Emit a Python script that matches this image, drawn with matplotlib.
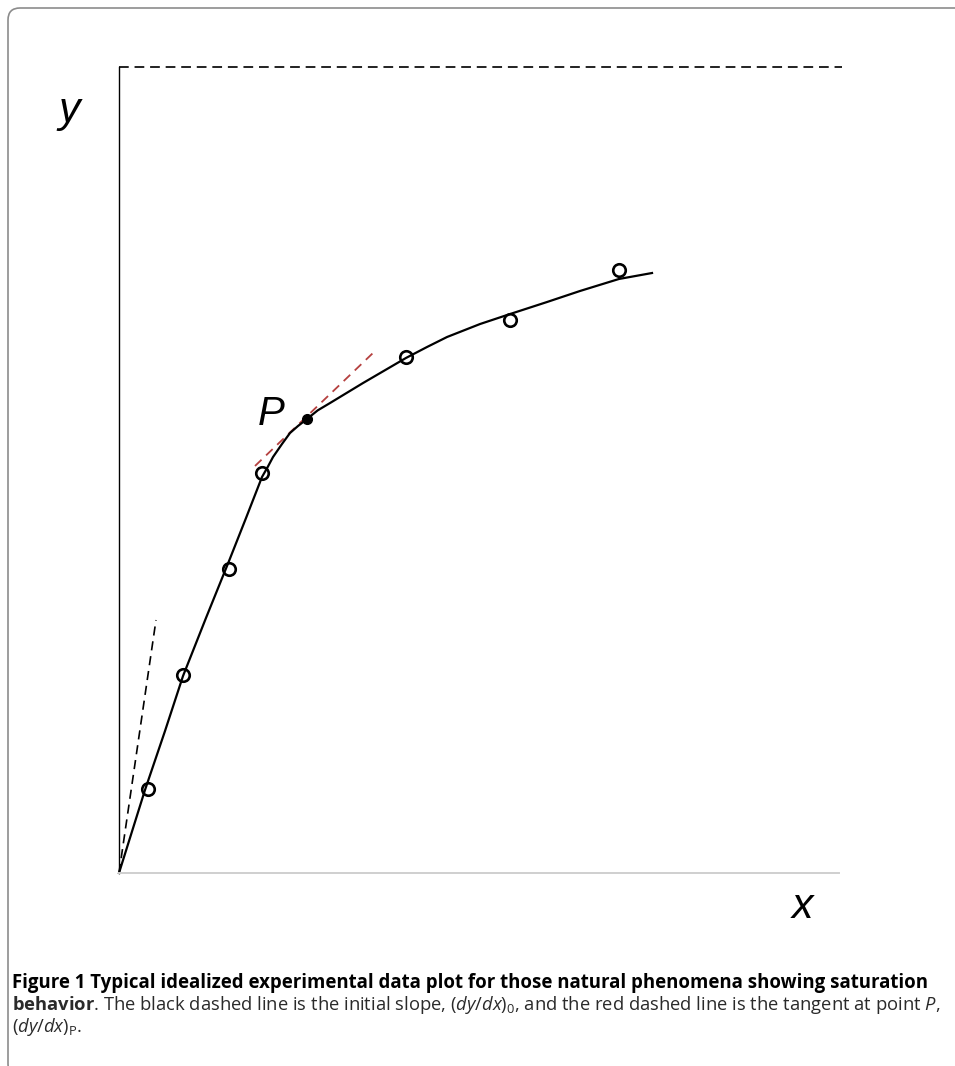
import matplotlib
matplotlib.use("Agg")
import matplotlib.pyplot as plt
from matplotlib.patches import FancyBboxPatch
from matplotlib.transforms import IdentityTransform

# data (axis units 0..100 on both axes, asymptote at y = 100)
obs_x = [4.03, 8.89, 15.28, 19.86, 39.86, 54.31, 69.44]
obs_y = [10.42, 24.57, 37.72, 49.63, 64.02, 68.61, 74.81]

curve_x = [0, 3.61, 6.39, 8.89, 12.08, 15.28, 17.64, 19.86, 20.70, 21.39, 22.64, 23.75,
           24.86, 26.11, 27.60, 29.31, 33.89, 39.86, 42.78, 45.56, 50.14, 54.31, 59.44,
           64.03, 69.44, 74.03]
curve_y = [0, 10.30, 17.62, 24.44, 31.64, 38.71, 44.04, 49.13, 50.45, 51.61, 53.23, 54.59,
           55.46, 56.33, 57.40, 58.31, 60.79, 63.90, 65.26, 66.50, 68.11, 69.35, 70.84,
           72.21, 73.70, 74.44]

p_x, p_y = 26.11, 56.33
init_x = [0, 5.14]
init_y = [0, 31.39]
tan_x = [18.89, 35.42]
tan_y = [50.50, 64.64]
asym_x = [0, 100.4]
asym_y = [100, 100]

plt.rcParams['mathtext.fontset'] = 'custom'
plt.rcParams['mathtext.rm'] = 'Open Sans'
plt.rcParams['mathtext.it'] = 'Open Sans:italic'
plt.rcParams['mathtext.bf'] = 'Open Sans:bold'

W, H = 955, 1066
fig = plt.figure(figsize=(W / 100, H / 100), dpi=100)

# rounded frame round the figure
frame = FancyBboxPatch((8, -10), 1000, H - 8 + 10, boxstyle="round,pad=0,rounding_size=12",
                       transform=IdentityTransform(), fill=False, ec='#8c8c8c', lw=1.2)
fig.patches.append(frame)

ax = fig.add_axes([119 / W, (H - 873) / H, 720 / W, 806 / H])
ax.set_xlim(0, 100)
ax.set_ylim(0, 100)
ax.set_xticks([])
ax.set_yticks([])
for s in ['top', 'right']:
    ax.spines[s].set_visible(False)
ax.spines['left'].set_color('black')
ax.spines['left'].set_linewidth(1.0)
ax.spines['bottom'].set_color('#cfcfcf')
ax.spines['bottom'].set_linewidth(1.4)

ax.plot(asym_x, asym_y, color='#222222', lw=1.4, dashes=(5, 3), clip_on=False)
ax.plot(init_x, init_y, color='black', lw=1.2, dashes=(5.5, 3.5), clip_on=False)
ax.plot(tan_x, tan_y, color='#b5403f', lw=1.3, dashes=(5, 3.5), clip_on=False)
ax.plot(curve_x, curve_y, color='black', lw=1.6, solid_joinstyle='round', clip_on=False)
ax.plot(obs_x, obs_y, 'o', ms=9, mfc='none', mec='black', mew=1.9, clip_on=False)
ax.plot([p_x], [p_y], 'o', ms=7, color='black', clip_on=False)

ax.text(-6.88, 94.55, 'y', fontsize=31, style='italic', family='Liberation Sans',
        ha='center', va='center')
ax.text(94.86, -4.22, 'x', fontsize=31, style='italic', family='Liberation Sans',
        ha='center', va='center')
ax.text(21.11, 57.0, 'P', fontsize=29, style='italic', family='Liberation Sans',
        ha='center', va='center')

# caption
cap_font = 'Open Sans'
fs = 13.4
fig.text(12 / W, 1 - 983 / H,
         'Figure 1 Typical idealized experimental data plot for those natural phenomena showing saturation',
         fontsize=fs, fontweight='bold', family=cap_font, va='center', ha='left')
fig.text(12 / W, 1 - 1005 / H,
         r'$\mathbf{behavior}$. The black dashed line is the initial slope, ($\mathit{dy/dx}$)$_0$,'
         r' and the red dashed line is the tangent at point $\mathit{P}$,',
         fontsize=13.2, family=cap_font, va='center', ha='left', color='#2a2a2a')
fig.text(12 / W, 1 - 1027 / H, r'($\mathit{dy/dx}$)$_\mathrm{P}$.',
         fontsize=13.2, family=cap_font, va='center', ha='left', color='#2a2a2a')

fig.savefig('out.png', dpi=100)
